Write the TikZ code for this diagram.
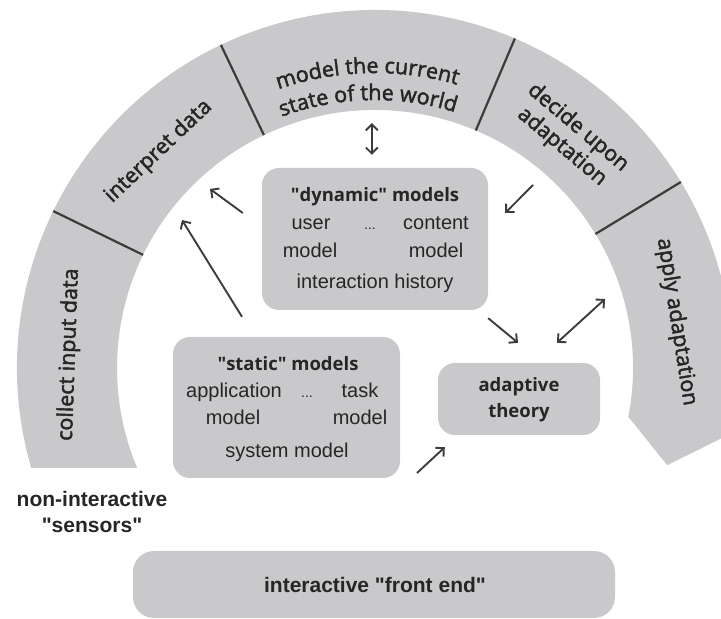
\documentclass[tikz,border=0pt]{standalone}
\usepackage{fontspec}
\setmainfont{Liberation Sans}
\newfontfamily\arcfont{Open Sans}[FakeBold=2]
\newfontfamily\headfont{Open Sans}
\usetikzlibrary{arrows.meta,calc,decorations.text}
\definecolor{cyclegray}{HTML}{C9C9CB}
\definecolor{ink}{HTML}{262626}
\definecolor{edge}{HTML}{3C3C3C}
\newcommand{\qd}{\textquotedbl}

\begin{document}
\begin{tikzpicture}[x=1pt, y=1pt,
    box/.style={rounded corners=17pt, fill=cyclegray, inner sep=0pt},
    arclabel/.style={font=\arcfont\fontsize{21.5}{25}\selectfont, text=ink, align=center},
    head/.style={font=\headfont\bfseries\fontsize{18.5}{22}\selectfont, text=ink, anchor=base},
    body/.style={font=\fontsize{20}{24}\selectfont, text=ink, anchor=base},
    dots/.style={font=\fontsize{14}{16}\selectfont, text=ink, anchor=base},
    outer/.style={font=\bfseries\fontsize{21}{25}\selectfont, text=ink, anchor=base},
    divider/.style={draw=edge, line width=2.2pt},
    arr/.style={draw=edge, line width=1.9pt, -{Straight Barb[angle=90:8.5pt]}},
    darr/.style={arr, {Straight Barb[angle=90:8.5pt]}-{Straight Barb[angle=90:8.5pt]}}
  ]
  \useasboundingbox (0,0) rectangle (721,619);
  \coordinate (C) at (375,251);

  % the cycle band
  \fill[cyclegray] ([shift={(196.22:358pt)}]C)
    arc[start angle=196.22, end angle=-10.9, radius=358pt]
    -- ([shift={(-18.4:308pt)}]C) -- ([shift={(-10.9:258pt)}]C)
    arc[start angle=-10.9, end angle=202.8, radius=258pt] -- cycle;
  \foreach \a in {154,115.5,67,31.3}
    \draw[divider] ([shift={(\a:258pt)}]C) -- ([shift={(\a:358pt)}]C);

  \node[arclabel, rotate=88] (collect) at ([shift={(177.5:306pt)}]C) {collect input data};
  \node[arclabel, rotate=43.5] (interp) at ([shift={(135:306pt)}]C) {interpret data};
  \node[arclabel, rotate=-40] (decide) at ([shift={(49.8:302pt)}]C) {decide upon\\adaptation};
  \node[arclabel, rotate=-81] (apply) at ([shift={(8.7:305pt)}]C) {apply adaptation};
  \path[decorate, decoration={text along path, text align=center, text color=ink,
      text={|\arcfont\fontsize{21.5}{25}\selectfont|model the current}}]
    ([shift={(121.5:295pt)}]C) arc[start angle=121.5, end angle=61.5, radius=295pt];
  \path[decorate, decoration={text along path, text align=center, text color=ink,
      text={|\arcfont\fontsize{21.5}{25}\selectfont|state of the world}}]
    ([shift={(121.5:268pt)}]C) arc[start angle=121.5, end angle=61.5, radius=268pt];

  % model boxes
  \node[box, minimum width=226pt, minimum height=142pt] (dyn) at (375,380) {};
  \node[head] (dyn-title) at ([yshift=-34pt]dyn.north) {\qd dynamic\qd\ models};
  \node[body] (user) at ([shift={(-64pt,9pt)}]dyn.center) {user};
  \node[dots] (dyn-dots) at ([shift={(-5pt,9pt)}]dyn.center) {...};
  \node[body] (content) at ([shift={(61pt,9pt)}]dyn.center) {content};
  \node[body] (user-m) at ([shift={(-65pt,-19pt)}]dyn.center) {model};
  \node[body] (content-m) at ([shift={(61pt,-19pt)}]dyn.center) {model};
  \node[body] (history) at ([yshift=-50pt]dyn.center) {interaction history};

  \node[box, minimum width=227pt, minimum height=141pt] (stat) at (286.5,211.5) {};
  \node[head] (stat-title) at ([shift={(1.5pt,36.5pt)}]stat.center) {\qd static\qd\ models};
  \node[body] (appl) at ([shift={(-52.5pt,9.5pt)}]stat.center) {application};
  \node[dots] (stat-dots) at ([shift={(20.5pt,9.5pt)}]stat.center) {...};
  \node[body] (task) at ([shift={(73.5pt,9.5pt)}]stat.center) {task};
  \node[body] (appl-m) at ([shift={(-53.5pt,-17.5pt)}]stat.center) {model};
  \node[body] (task-m) at ([shift={(73.5pt,-17.5pt)}]stat.center) {model};
  \node[body] (system) at ([shift={(0.5pt,-50.5pt)}]stat.center) {system model};

  \node[box, minimum width=162pt, minimum height=72pt] (adapt) at (519,220) {};
  \node[head] (adapt-1) at ([yshift=7pt]adapt.center) {adaptive};
  \node[head] (adapt-2) at ([yshift=-19pt]adapt.center) {theory};

  \node[box, rounded corners=21pt, minimum width=482pt, minimum height=67pt] (front) at (374,34.5) {};
  \node[outer] (front-text) at ([shift={(1pt,-8.5pt)}]front.center) {interactive \qd front end\qd};
  \node[outer] (sensors-1) at (92,112) {non-interactive};
  \node[outer] (sensors-2) at (92,86) {\qd sensors\qd};

  % arrows
  \coordinate (b-model) at ([shift={(90.7:258pt)}]C);
  \coordinate (h-int1) at (210,430);
  \coordinate (h-int2) at (182,399);
  \coordinate (t-dec) at (533,434);
  \coordinate (h-app) at (605,320);
  \coordinate (t-front) at (417,146);
  \draw[darr, shorten <=13pt, shorten >=13pt] (b-model) -- (b-model |- dyn.north);
  \draw[arr] ([shift={(-19pt,26pt)}]dyn.west) -- (h-int1);
  \draw[arr] ([shift={(-44.5pt,20pt)}]stat.north) -- (h-int2);
  \draw[arr] (t-dec) -- ([shift={(17pt,26pt)}]dyn.east);
  \draw[arr] ([yshift=-8pt]dyn.south east) -- ([shift={(-1pt,20pt)}]adapt.north);
  \draw[darr] ([shift={(38pt,20pt)}]adapt.north) -- (h-app);
  \draw[arr] (t-front) -- ([shift={(7pt,-12pt)}]adapt.south west);
\end{tikzpicture}
\end{document}
